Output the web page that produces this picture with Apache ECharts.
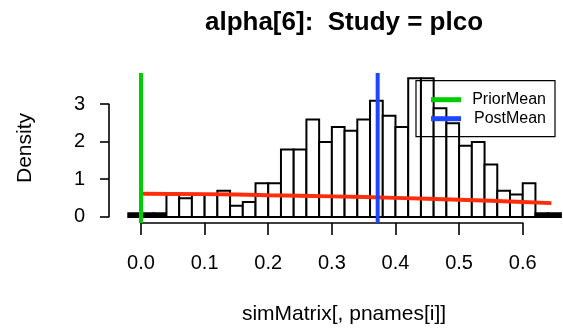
<!DOCTYPE html>
<html>
<head>
<meta charset="utf-8">
<script src="https://cdn.jsdelivr.net/npm/echarts@6/dist/echarts.min.js"></script>
<style>
  html, body { margin: 0; padding: 0; background: #fff; }
  #chart { width: 563px; height: 331px; }
</style>
</head>
<body>
<div id="chart"></div>
<script>
// Histogram bin edges (width 0.02) and the density of each bin
const binEdges = [-0.02, 0.00, 0.02, 0.04, 0.06, 0.08, 0.10, 0.12, 0.14, 0.16, 0.18,
                  0.20, 0.22, 0.24, 0.26, 0.28, 0.30, 0.32, 0.34, 0.36, 0.38,
                  0.40, 0.42, 0.44, 0.46, 0.48, 0.50, 0.52, 0.54, 0.56, 0.58,
                  0.60, 0.62, 0.64, 0.66];
const binDensity = [0.1, 0.1, 0.1, 0.6, 0.5, 0.6, 0.6, 0.7, 0.3, 0.4, 0.9,
                    0.9, 1.8, 1.8, 2.6, 2.0, 2.4, 2.3, 2.6, 3.1, 2.7,
                    2.4, 3.7, 3.7, 2.9, 2.5, 1.9, 2.0, 1.4, 0.7, 0.6,
                    0.9, 0.1, 0.1];

// Prior density curve
const priorX = [0.0, 0.1, 0.2, 0.3, 0.4, 0.5, 0.6, 0.645];
const priorY = [0.62, 0.61, 0.58, 0.55, 0.51, 0.46, 0.40, 0.37];

// Reference lines
const priorMean = 0.0;
const postMean = 0.372;

// Axis ticks
const xTicks = [0.0, 0.1, 0.2, 0.3, 0.4, 0.5, 0.6];
const yTicks = [0, 1, 2, 3];

const PLOT_YMIN = -0.16, PLOT_YMAX = 3.84;
const FONT = '"Liberation Sans", Arial, Helvetica, sans-serif';

const histData = binDensity.map((d, i) => [binEdges[i], binEdges[i + 1], d]);
const priorData = priorX.map((x, i) => [x, priorY[i]]);

const chart = echarts.init(document.getElementById('chart'), null, { renderer: 'canvas' });

chart.setOption({
  animation: false,
  backgroundColor: '#ffffff',
  grid: [
    // plotting region
    { left: 109, right: 0, top: 73, height: 150 },
    // x axis drawn only over the tick range
    { left: 141, width: 381.7, top: 73, height: 150 },
    // y axis drawn only over the tick range
    { left: 109, width: 10, top: 104.2, height: 112.5 }
  ],
  xAxis: [
    { gridIndex: 0, type: 'value', min: -0.0503, max: 0.6633, show: false },
    {
      gridIndex: 1, type: 'value', min: xTicks[0], max: xTicks[xTicks.length - 1], interval: 0.1,
      axisLine: { show: true, lineStyle: { color: '#000', width: 1.6 } },
      axisTick: { show: true, inside: false, length: 12, lineStyle: { color: '#000', width: 1.6 } },
      axisLabel: { show: true, color: '#000', fontSize: 20, fontFamily: FONT, margin: 30,
                   formatter: v => v.toFixed(1) },
      splitLine: { show: false }
    },
    { gridIndex: 2, type: 'value', show: false }
  ],
  yAxis: [
    { gridIndex: 0, type: 'value', min: PLOT_YMIN, max: PLOT_YMAX, show: false },
    { gridIndex: 1, type: 'value', show: false },
    {
      gridIndex: 2, type: 'value', min: yTicks[0], max: yTicks[yTicks.length - 1], interval: 1,
      axisLine: { show: true, lineStyle: { color: '#000', width: 1.6 } },
      axisTick: { show: true, inside: false, length: 9, lineStyle: { color: '#000', width: 1.6 } },
      axisLabel: { show: true, color: '#000', fontSize: 20, fontFamily: FONT, margin: 24 },
      splitLine: { show: false }
    }
  ],
  legend: {
    data: ['PriorMean', 'PostMean'],
    orient: 'vertical',
    left: 416, top: 80.7,
    padding: [10, 9, 9, 15],
    itemWidth: 30, itemHeight: 5, itemGap: 1,
    icon: 'rect',
    selectedMode: false,
    borderColor: '#000', borderWidth: 1.2,
    formatter: '{r|{name}}',
    textStyle: {
      color: '#000', fontSize: 16, fontFamily: FONT, lineHeight: 18,
      rich: { r: { width: 80, align: 'right', fontSize: 16, fontFamily: FONT, color: '#000', lineHeight: 18 } }
    }
  },
  series: [
    {
      name: 'hist',
      type: 'custom',
      xAxisIndex: 0, yAxisIndex: 0,
      data: histData,
      encode: { x: [0, 1], y: 2 },
      renderItem: function (params, api) {
        const x0 = api.value(0), x1 = api.value(1), d = api.value(2);
        const tl = api.coord([x0, d]);
        const br = api.coord([x1, 0]);
        return {
          type: 'rect',
          shape: { x: tl[0], y: tl[1], width: br[0] - tl[0], height: br[1] - tl[1] },
          style: { fill: d <= 0.1 ? '#000' : '#fff', stroke: '#000', lineWidth: 2 }
        };
      },
      z: 1
    },
    {
      name: 'prior',
      type: 'line',
      xAxisIndex: 0, yAxisIndex: 0,
      data: priorData,
      smooth: true,
      showSymbol: false,
      lineStyle: { color: '#ff2d0b', width: 4 },
      z: 2
    },
    {
      name: 'PriorMean',
      type: 'line',
      xAxisIndex: 0, yAxisIndex: 0,
      data: [[priorMean, PLOT_YMIN], [priorMean, PLOT_YMAX]],
      showSymbol: false,
      color: '#00cd00',
      lineStyle: { color: '#00cd00', width: 4 },
      z: 3
    },
    {
      name: 'PostMean',
      type: 'line',
      xAxisIndex: 0, yAxisIndex: 0,
      data: [[postMean, PLOT_YMIN], [postMean, PLOT_YMAX]],
      showSymbol: false,
      color: '#1c46ff',
      lineStyle: { color: '#1c46ff', width: 4 },
      z: 3
    }
  ],
  graphic: [
    {
      type: 'text', x: 344, y: 23,
      style: { text: 'alpha[6]:  Study = plco', fill: '#000', font: 'bold 26px ' + FONT,
               align: 'center', verticalAlign: 'middle' }
    },
    {
      type: 'text', x: 344, y: 314,
      style: { text: 'simMatrix[, pnames[i]]', fill: '#000', font: '21px ' + FONT,
               align: 'center', verticalAlign: 'middle' }
    },
    {
      type: 'text', x: 25, y: 148, rotation: Math.PI / 2,
      style: { text: 'Density', fill: '#000', font: '21px ' + FONT,
               align: 'center', verticalAlign: 'middle' }
    }
  ]
});
</script>
</body>
</html>
